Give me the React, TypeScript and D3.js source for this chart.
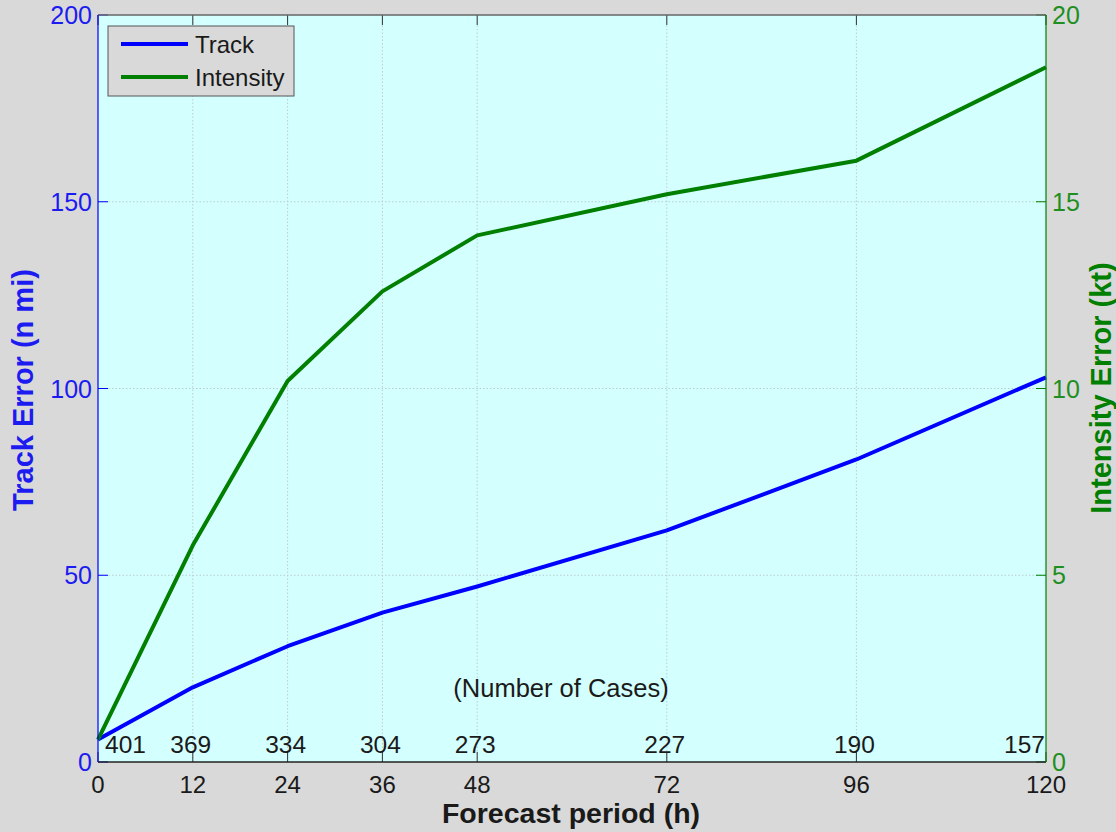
import React from "react";
import * as d3 from "d3";

const hours = [0, 12, 24, 36, 48, 72, 96, 120];
const trackError = [6, 20, 31, 40, 47, 62, 81, 103];
const intensityError = [0.6, 5.8, 10.2, 12.6, 14.1, 15.2, 16.1, 18.6];
const cases = [401, 369, 334, 304, 273, 227, 190, 157];
const leftTicks = [0, 50, 100, 150, 200];
const rightTicks = [0, 5, 10, 15, 20];

const W = 1116;
const H = 832;
const M = { left: 98, right: 1046, top: 15, bottom: 762 };

const BG = "#d9d9d9";
const PLOT_BG = "#d4ffff";
const BLUE = "#0000ff";
const BLUE_TXT = "#1c1cf0";
const GREEN = "#007f00";
const GREEN_TXT = "#1f8f1f";
const FONT = "Arial, 'Liberation Sans', Helvetica, sans-serif";

export default function App() {
  const x = d3.scaleLinear().domain([0, 120]).range([M.left, M.right]);
  const yL = d3.scaleLinear().domain([0, 200]).range([M.bottom, M.top]);
  const yR = d3.scaleLinear().domain([0, 20]).range([M.bottom, M.top]);

  const trackLine = d3
    .line<number>()
    .x((_, i) => x(hours[i]))
    .y((d) => yL(d))(trackError) as string;
  const intLine = d3
    .line<number>()
    .x((_, i) => x(hours[i]))
    .y((d) => yR(d))(intensityError) as string;

  const tickLen = 10;

  const caseAnchor = (i: number) =>
    i === 0 ? "start" : i === cases.length - 1 ? "end" : "middle";
  const caseX = (i: number) => {
    if (i === 0) return x(hours[i]) + 7;
    if (i === cases.length - 1) return x(hours[i]) - 1;
    return x(hours[i]) - 2;
  };

  return (
    <div style={{ position: "fixed", left: 0, top: 0 }}>
      <svg width={W} height={H} style={{ display: "block" }} fontFamily={FONT}>
        <rect x={0} y={0} width={W} height={H} fill={BG} />
        <rect
          x={M.left}
          y={M.top}
          width={M.right - M.left}
          height={M.bottom - M.top}
          fill={PLOT_BG}
        />
        {/* grid */}
        <g stroke="#bccccc" strokeWidth={1} strokeDasharray="1.5,2">
          {hours.slice(1, -1).map((h) => (
            <line key={"gx" + h} x1={x(h)} x2={x(h)} y1={M.top} y2={M.bottom} />
          ))}
          {leftTicks.slice(1, -1).map((t) => (
            <line key={"gy" + t} x1={M.left} x2={M.right} y1={yL(t)} y2={yL(t)} />
          ))}
        </g>
        {/* x ticks (bottom & top, inward) */}
        <g stroke="#333" strokeWidth={1}>
          {hours.map((h) => (
            <g key={"xt" + h}>
              <line x1={x(h)} x2={x(h)} y1={M.bottom} y2={M.bottom - tickLen} />
              <line x1={x(h)} x2={x(h)} y1={M.top} y2={M.top + tickLen} />
            </g>
          ))}
        </g>
        {/* left ticks */}
        <g stroke={BLUE} strokeWidth={1}>
          {leftTicks.map((t) => (
            <line key={"lt" + t} x1={M.left} x2={M.left + tickLen} y1={yL(t)} y2={yL(t)} />
          ))}
        </g>
        {/* right ticks */}
        <g stroke={GREEN} strokeWidth={1}>
          {rightTicks.map((t) => (
            <line key={"rt" + t} x1={M.right} x2={M.right - tickLen} y1={yR(t)} y2={yR(t)} />
          ))}
        </g>
        {/* data lines */}
        <path d={trackLine} fill="none" stroke={BLUE} strokeWidth={4} strokeLinejoin="round" />
        <path d={intLine} fill="none" stroke={GREEN} strokeWidth={4} strokeLinejoin="round" />
        {/* axes frame */}
        <line x1={M.left} x2={M.right} y1={M.top} y2={M.top} stroke="#666" strokeWidth={1.5} />
        <line x1={M.left} x2={M.right} y1={M.bottom} y2={M.bottom} stroke="#222" strokeWidth={1.5} />
        <line x1={M.left} x2={M.left} y1={M.top} y2={M.bottom} stroke={BLUE} strokeWidth={1.5} opacity={0.8} />
        <line x1={M.right} x2={M.right} y1={M.top} y2={M.bottom} stroke={GREEN} strokeWidth={1.5} opacity={0.8} />
        {/* x tick labels */}
        <g fontSize={24} fill="#1a1a1a" textAnchor="middle">
          {hours.map((h) => (
            <text key={"xl" + h} x={x(h)} y={793}>
              {h}
            </text>
          ))}
        </g>
        {/* left tick labels */}
        <g fontSize={25} fill={BLUE_TXT} textAnchor="end">
          {leftTicks.map((t) => (
            <text key={"ll" + t} x={M.left - 6} y={yL(t) + 9}>
              {t}
            </text>
          ))}
        </g>
        {/* right tick labels */}
        <g fontSize={25} fill={GREEN_TXT} textAnchor="start">
          {rightTicks.map((t) => (
            <text key={"rl" + t} x={M.right + 6} y={yR(t) + 9}>
              {t}
            </text>
          ))}
        </g>
        {/* case numbers */}
        <g fontSize={24.5} fill="#1a1a1a">
          {cases.map((c, i) => (
            <text key={"c" + i} x={caseX(i)} y={753} textAnchor={caseAnchor(i)}>
              {c}
            </text>
          ))}
          <text x={561} y={697} textAnchor="middle" fontSize={25.5}>
            (Number of Cases)
          </text>
        </g>
        {/* axis titles */}
        <text x={571} y={823} textAnchor="middle" fontSize={28.5} fontWeight="bold" fill="#1a1a1a">
          Forecast period (h)
        </text>
        <text
          transform={`translate(33, 390) rotate(-90)`}
          textAnchor="middle"
          fontSize={29}
          fontWeight="bold"
          fill={BLUE_TXT}
        >
          Track Error (n mi)
        </text>
        <text
          transform={`translate(1111, 388) rotate(-90)`}
          textAnchor="middle"
          fontSize={29}
          fontWeight="bold"
          fill={GREEN}
        >
          Intensity Error (kt)
        </text>
        {/* legend */}
        <g>
          <rect x={108} y={26} width={186} height={70} fill={BG} stroke="#555" strokeWidth={1} />
          <line x1={121} x2={188} y1={44} y2={44} stroke={BLUE} strokeWidth={4} />
          <line x1={121} x2={188} y1={77} y2={77} stroke={GREEN} strokeWidth={4} />
          <text x={195} y={53} fontSize={24} fill="#1a1a1a">
            Track
          </text>
          <text x={195} y={86} fontSize={24} fill="#1a1a1a">
            Intensity
          </text>
        </g>
      </svg>
    </div>
  );
}
